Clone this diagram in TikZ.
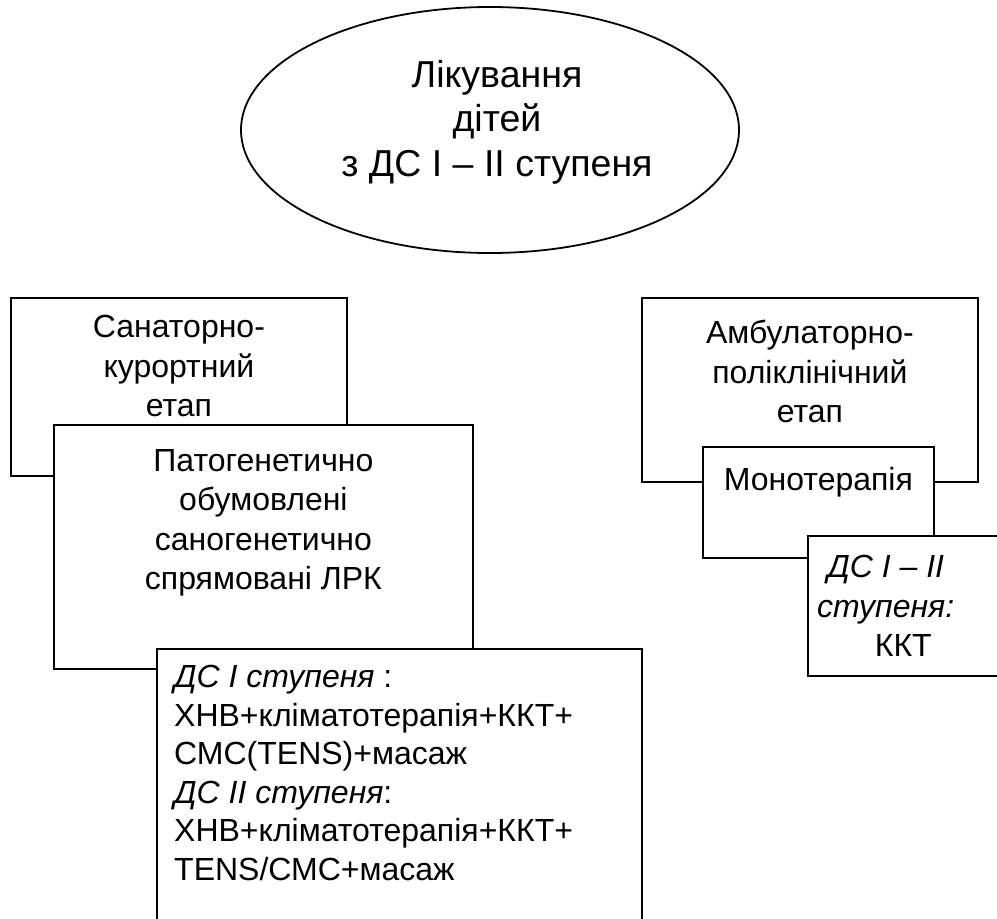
\documentclass[tikz,border=0pt]{standalone}
\usepackage{fontspec}
\setmainfont{Liberation Sans}
\usetikzlibrary{positioning, shapes.geometric}

\begin{document}
\begin{tikzpicture}[
    x=1pt, y=-1pt,
    % Node styles
    frame/.style={
        rectangle,
        draw=black,
        fill=white,
        line width=1.8pt,
        inner sep=0pt,
        anchor=north west
    },
    oval/.style={
        ellipse,
        draw=black,
        fill=white,
        line width=1.8pt,
        inner sep=0pt
    },
    caption/.style={
        inner sep=0pt,
        align=center,
        font=\fontsize{32}{39.5}\selectfont
    },
    bigcaption/.style={
        inner sep=0pt,
        align=center,
        font=\fontsize{37.5}{44.5}\selectfont
    },
    listcaption/.style={
        inner sep=0pt,
        align=left,
        font=\fontsize{32}{38.5}\selectfont
    }
]

% Page frame
\clip (0,0) rectangle (997,919);

% Top: treatment goal
\node[oval, minimum width=498, minimum height=246] (goal) at (490,130) {};
\node[bigcaption, below=54pt of goal.north, xshift=7pt] (goaltext) {
    Лікування\\
    дітей\\
    з ДС I -- II ступеня
};

% Left branch: sanatorium stage
\node[frame, minimum width=336, minimum height=178] (sanbox) at (10,297) {};
\node[caption, below=18pt of sanbox.north] (santext) {
    Санаторно-\\
    курортний\\
    етап
};

\node[frame, minimum width=419, minimum height=244] (patbox) at (53,424) {};
\node[caption, below=25pt of patbox.north] (pattext) {
    Патогенетично\\
    обумовлені\\
    саногенетично\\
    спрямовані ЛРК
};

\node[frame, minimum width=485, minimum height=300] (dsbox) at (156,648) {};
\node[listcaption, below right=17pt and 18pt of dsbox.north west] (dstext) {
    \textit{ДС I ступеня} :\\
    ХНВ+кліматотерапія+ККТ+\\
    СМС(TENS)+масаж\\
    \textit{ДС II ступеня}:\\
    ХНВ+кліматотерапія+ККТ+\\
    TENS/СМС+масаж
};

% Right branch: outpatient stage
\node[frame, minimum width=336, minimum height=184] (ambbox) at (641,297) {};
\node[caption, below=23pt of ambbox.north] (ambtext) {
    Амбулаторно-\\
    поліклінічний\\
    етап
};

\node[frame, minimum width=231, minimum height=111] (monobox) at (702,446) {};
\node[caption, below=21pt of monobox.north] (monotext) {Монотерапія};

\node[frame, minimum width=210, minimum height=140] (dssbox) at (807,535) {};
\node[caption, below right=20pt and 10pt of dssbox.north west] (dsstext) {
    \textit{ДС I -- II}\\
    \textit{ступеня:}\\
    \hspace*{1.1em}ККТ
};

\end{tikzpicture}
\end{document}
